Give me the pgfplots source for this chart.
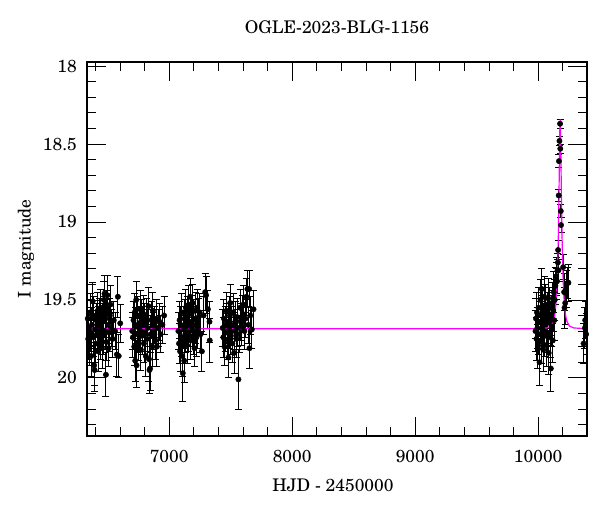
\documentclass[border=0pt]{standalone}
\usepackage{fontspec}
\setmainfont{texgyreschola-regular.otf}
\usepackage{pgfplots}
\usepackage{pgfplotstable}
\pgfplotsset{compat=1.18}
\definecolor{model}{RGB}{255,0,255}

\pgfplotstableread{
t m e
6338 19.62 0.12
6342 19.75 0.13
6347 19.68 0.11
6352 19.80 0.12
6358 19.58 0.12
6363 19.71 0.12
6366 19.86 0.13
6372 19.66 0.11
6378 19.51 0.12
6382 19.74 0.12
6386 19.60 0.12
6390 19.92 0.13
6394 19.95 0.14
6398 19.69 0.12
6403 19.78 0.12
6408 19.63 0.11
6413 19.72 0.12
6418 19.57 0.12
6422 19.83 0.13
6427 19.66 0.12
6431 19.70 0.11
6436 19.61 0.12
6440 19.76 0.12
6445 19.55 0.12
6449 19.68 0.12
6454 19.81 0.13
6458 19.64 0.12
6462 19.73 0.12
6466 19.59 0.11
6470 19.50 0.12
6474 19.46 0.12
6478 19.70 0.12
6482 19.62 0.12
6486 19.98 0.14
6490 19.77 0.12
6494 19.56 0.12
6498 19.47 0.13
6503 19.66 0.12
6508 19.81 0.12
6513 19.71 0.12
6518 19.60 0.11
6523 19.53 0.12
6530 19.68 0.12
6540 19.75 0.12
6550 19.63 0.12
6560 19.70 0.12
6575 19.85 0.14
6583 19.48 0.13
6590 19.86 0.14
6602 19.65 0.12
6700 19.70 0.12
6705 19.74 0.13
6710 19.63 0.12
6716 19.80 0.12
6720 19.58 0.12
6724 19.89 0.13
6728 19.67 0.12
6732 19.50 0.12
6735 19.92 0.14
6740 19.72 0.12
6745 19.60 0.12
6750 19.77 0.12
6755 19.65 0.11
6760 19.69 0.12
6765 19.56 0.12
6770 19.82 0.13
6775 19.62 0.12
6780 19.73 0.12
6785 19.66 0.12
6790 19.59 0.12
6795 19.78 0.12
6800 19.64 0.12
6805 19.71 0.12
6810 19.86 0.13
6815 19.61 0.12
6820 19.75 0.12
6826 19.68 0.12
6832 19.54 0.12
6836 19.88 0.14
6840 19.95 0.15
6845 19.94 0.14
6850 19.72 0.12
6856 19.63 0.12
6862 19.80 0.13
6868 19.57 0.12
6874 19.70 0.12
6880 19.66 0.12
6888 19.76 0.12
6895 19.62 0.12
6900 19.80 0.13
6910 19.68 0.12
6921 19.64 0.12
6930 19.72 0.12
6945 19.66 0.12
6959 19.60 0.12
7075 19.70 0.12
7080 19.78 0.13
7085 19.63 0.12
7089 19.83 0.13
7093 19.66 0.12
7098 19.74 0.12
7102 19.58 0.12
7107 19.86 0.13
7111 19.97 0.18
7116 19.69 0.12
7122 19.89 0.14
7126 19.62 0.12
7131 19.72 0.12
7135 19.55 0.12
7140 19.67 0.12
7145 19.79 0.12
7150 19.60 0.12
7155 19.71 0.12
7160 19.53 0.12
7165 19.64 0.12
7171 19.48 0.12
7176 19.76 0.12
7181 19.59 0.12
7186 19.68 0.12
7191 19.52 0.12
7196 19.73 0.12
7201 19.62 0.12
7206 19.81 0.12
7211 19.57 0.12
7216 19.66 0.12
7222 19.74 0.12
7228 19.55 0.12
7234 19.69 0.12
7240 19.61 0.12
7248 19.58 0.12
7256 19.72 0.12
7266 19.83 0.13
7280 19.60 0.12
7293 19.45 0.12
7300 19.47 0.12
7315 19.56 0.12
7328 19.64 0.13
7330 19.76 0.14
7435 19.68 0.12
7440 19.74 0.13
7445 19.62 0.12
7450 19.80 0.12
7455 19.66 0.12
7460 19.71 0.12
7466 19.57 0.12
7472 19.76 0.12
7478 19.64 0.12
7482 19.87 0.13
7488 19.69 0.12
7494 19.60 0.12
7496 19.52 0.12
7502 19.73 0.12
7508 19.66 0.12
7514 19.78 0.12
7520 19.58 0.12
7528 19.84 0.13
7534 19.70 0.12
7540 19.63 0.12
7546 19.75 0.12
7552 19.61 0.12
7558 19.68 0.12
7563 20.01 0.19
7570 19.72 0.12
7576 19.55 0.12
7582 19.64 0.12
7591 19.67 0.12
7598 19.59 0.12
7604 19.53 0.12
7612 19.70 0.12
7620 19.62 0.12
7628 19.48 0.12
7636 19.43 0.12
7644 19.66 0.12
7650 19.43 0.12
7653 19.81 0.13
7660 19.60 0.12
7672 19.69 0.12
7686 19.56 0.12
9978 19.70 0.13
9982 19.62 0.13
9986 19.75 0.14
9990 19.58 0.13
9994 19.68 0.13
9998 19.80 0.14
10002 19.55 0.13
10006 19.72 0.13
10011 19.90 0.15
10015 19.64 0.13
10019 19.50 0.13
10023 19.77 0.14
10027 19.60 0.13
10030 19.43 0.13
10034 19.69 0.13
10038 19.56 0.13
10042 19.82 0.14
10046 19.66 0.13
10050 19.48 0.13
10054 19.73 0.13
10058 19.61 0.13
10062 19.53 0.13
10066 19.79 0.14
10070 19.65 0.13
10074 19.58 0.13
10078 19.71 0.13
10082 19.49 0.13
10086 19.84 0.14
10090 19.62 0.13
10094 19.55 0.13
10098 19.74 0.13
10103 19.94 0.15
10107 19.60 0.13
10111 19.67 0.13
10115 19.52 0.13
10119 19.76 0.14
10123 19.57 0.13
10127 19.45 0.13
10131 19.63 0.13
10135 19.50 0.13
10140 19.41 0.12
10145 19.35 0.12
10150 19.38 0.12
10153 19.38 0.08
10157 19.31 0.07
10160 19.26 0.06
10162 19.18 0.06
10165 19.31 0.07
10167 18.83 0.04
10169 18.61 0.04
10173 18.48 0.03
10178 18.37 0.03
10180 18.53 0.03
10184 18.93 0.04
10186 19.02 0.05
10203 19.29 0.08
10211 19.45 0.12
10214 19.55 0.13
10220 19.52 0.14
10228 19.43 0.12
10241 19.39 0.10
10246 19.39 0.12
10369 19.78 0.13
10380 19.68 0.13
10382 19.63 0.12
10390 19.72 0.13
}\obsdata

\pgfplotstableread{
t m
6330 19.685
9900 19.685
9979 19.684
10069 19.680
10104 19.667
10124 19.638
10132 19.612
10139 19.574
10149 19.475
10154 19.390
10159 19.267
10164 19.089
10167 18.948
10169 18.837
10171 18.716
10173 18.589
10176 18.417
10177.5 18.362
10179 18.342
10180.5 18.362
10182 18.417
10185 18.589
10187 18.716
10189 18.837
10191 18.948
10194 19.089
10199 19.267
10204 19.390
10209 19.475
10219 19.574
10226 19.612
10234 19.638
10254 19.667
10289 19.680
10379 19.684
10400 19.685
}\modeldata

\begin{document}
\begin{tikzpicture}[font=\fontsize{17.5}{21}\selectfont]
\begin{axis}[
  scale only axis,
  width=500bp, height=374bp,
  xmin=6332, xmax=10397,
  ymin=17.974, ymax=20.373,
  y dir=reverse,
  scaled x ticks=false, scaled y ticks=false,
  axis line style={line width=1.1pt},
  xtick={7000,8000,9000,10000},
  xticklabels={7000,8000,9000,10000},
  minor xtick={6400,6600,6800,7200,7400,7600,7800,8200,8400,8600,8800,9200,9400,9600,9800,10200},
  ytick={18,18.5,19,19.5,20},
  yticklabels={18,18.5,19,19.5,20},
  minor ytick={18.1,18.2,18.3,18.4,18.6,18.7,18.8,18.9,19.1,19.2,19.3,19.4,19.6,19.7,19.8,19.9,20.1,20.2,20.3},
  tick align=inside,
  major tick length=19bp,
  minor tick length=9bp,
  every tick/.style={black, line width=0.8pt},
  xticklabel style={anchor=base, yshift=-26.5bp, inner sep=0pt},
  yticklabel style={anchor=east, xshift=-10bp, inner sep=0pt},
  title={OGLE-2023-BLG-1156},
  title style={at={(rel axis cs:0.5,1)}, anchor=base, yshift=22.5bp, inner sep=0pt},
  xlabel={HJD - 2450000},
  xlabel style={at={(rel axis cs:0.5,0)}, anchor=base, yshift=-55bp, xshift=-4bp, inner sep=0pt},
  ylabel={I magnitude},
  ylabel style={at={(rel axis cs:0,0.5)}, anchor=center, yshift=61bp, inner sep=0pt},
  clip=true,
]
\addplot[only marks, mark=*, mark size=2.7bp, black,
  error bars/.cd, y dir=both, y explicit,
  error bar style={line width=0.9pt, black},
  error mark options={rotate=90, mark size=3.5bp, line width=0.9pt, black}]
  table[x=t, y=m, y error=e] {\obsdata};
\addplot[model, line width=1.2pt, no marks] table[x=t, y=m] {\modeldata};
\end{axis}
\pgfresetboundingbox
\path (current axis.south west) ++(-87bp,-76bp) rectangle ++(600bp,512bp);
\end{tikzpicture}
\end{document}
